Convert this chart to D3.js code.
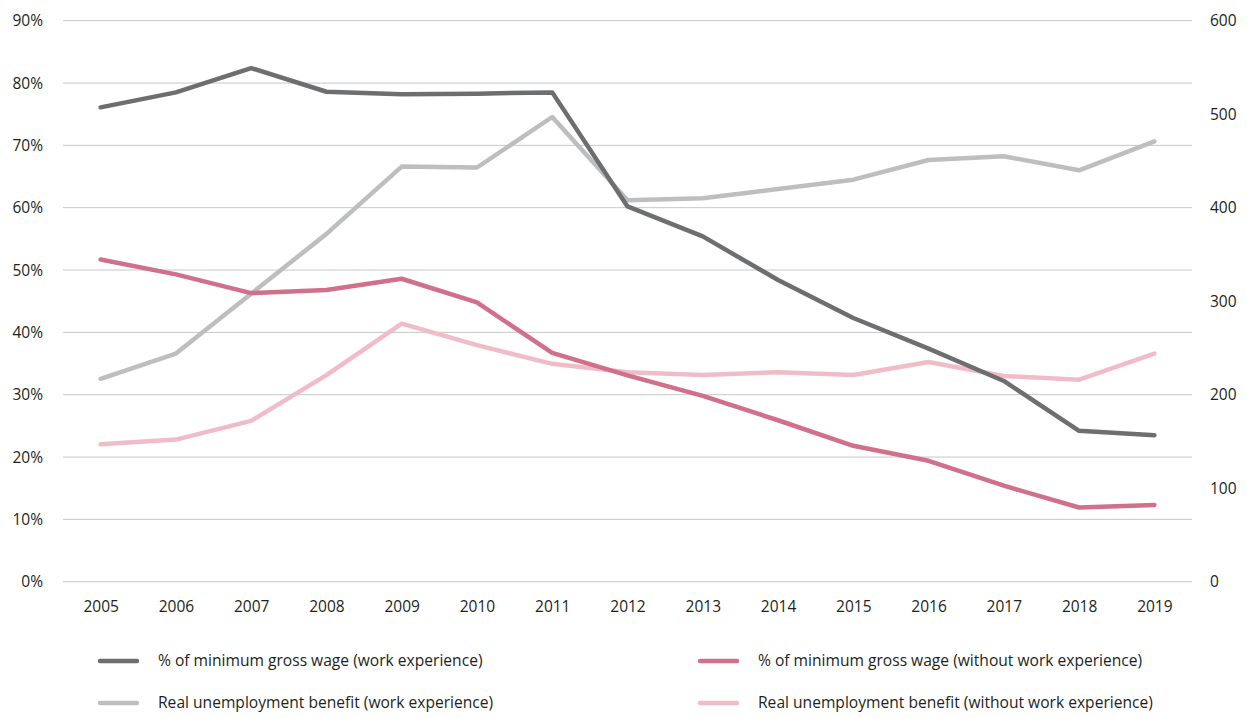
<!DOCTYPE html>
<html>
<head>
<meta charset="utf-8">
<script src="https://cdn.jsdelivr.net/npm/d3@7"></script>
<style>
  html, body { margin: 0; padding: 0; background: #fff; }
  svg { display: block; font-family: "Open Sans", sans-serif; }
</style>
</head>
<body>
<svg id="chart" width="1250" height="718"></svg>
<script>
// Years on the x axis
const years = ["2005","2006","2007","2008","2009","2010","2011","2012","2013","2014","2015","2016","2017","2018","2019"];

// Left axis (share of minimum gross wage, %)
const wageShareExp   = [76.1, 78.5, 82.4, 78.6, 78.2, 78.3, 78.5, 60.2, 55.4, 48.4, 42.3, 37.4, 32.2, 24.2, 23.5];
const wageShareNoExp = [51.7, 49.3, 46.3, 46.8, 48.6, 44.8, 36.7, 33.1, 29.8, 25.9, 21.8, 19.4, 15.4, 11.9, 12.3];

// Right axis (real unemployment benefit)
const realBenefitExp   = [217, 244, 308, 372, 444, 443, 497, 408, 410, 420, 430, 451, 455, 440, 471];
const realBenefitNoExp = [147, 152, 172, 221, 276, 253, 233, 224, 221, 224, 221, 235, 220, 216, 244];

const leftTicks  = [0, 10, 20, 30, 40, 50, 60, 70, 80, 90];
const rightTicks = [0, 100, 200, 300, 400, 500, 600];

const seriesInfo = [
  { name: "% of minimum gross wage (work experience)",         values: wageShareExp,     axis: "left",  color: "#6d6e70" },
  { name: "% of minimum gross wage (without work experience)", values: wageShareNoExp,   axis: "left",  color: "#d0708a" },
  { name: "Real unemployment benefit (work experience)",        values: realBenefitExp,   axis: "right", color: "#bdbec0" },
  { name: "Real unemployment benefit (without work experience)",values: realBenefitNoExp, axis: "right", color: "#f0bcc8" }
];

const svg = d3.select("#chart");
const plot = { left: 63, right: 1192, top: 20.7, bottom: 581.7 };

const x = d3.scalePoint().domain(years).range([plot.left, plot.right]).padding(0.5);
const yL = d3.scaleLinear().domain([0, 90]).range([plot.bottom, plot.top]);
const yR = d3.scaleLinear().domain([0, 600]).range([plot.bottom, plot.top]);

const textColor = "#231f20";
const fontSize = 15.5;

// Horizontal gridlines
svg.append("g")
  .selectAll("line")
  .data(leftTicks)
  .join("line")
  .attr("x1", plot.left).attr("x2", plot.right)
  .attr("y1", d => yL(d)).attr("y2", d => yL(d))
  .attr("stroke", "#c6c7c9").attr("stroke-width", 1);

// Left axis
const axL = svg.append("g")
  .attr("transform", `translate(${plot.left - 20},0)`)
  .call(d3.axisLeft(yL).tickValues(leftTicks).tickFormat(d => d + "%").tickSize(0).tickPadding(0));
axL.select(".domain").remove();
axL.selectAll("text").attr("font-size", fontSize).attr("fill", textColor).attr("font-family", "Open Sans, sans-serif");

// Right axis
const axR = svg.append("g")
  .attr("transform", `translate(${plot.right + 18},0)`)
  .call(d3.axisRight(yR).tickValues(rightTicks).tickSize(0).tickPadding(0));
axR.select(".domain").remove();
axR.selectAll("text").attr("font-size", fontSize).attr("fill", textColor).attr("font-family", "Open Sans, sans-serif");

// Bottom axis (category labels)
const axB = svg.append("g")
  .attr("transform", `translate(0,${plot.bottom + 19})`)
  .call(d3.axisBottom(x).tickSize(0).tickPadding(0));
axB.select(".domain").remove();
axB.selectAll("text").attr("font-size", fontSize).attr("fill", textColor).attr("font-family", "Open Sans, sans-serif").attr("dy", "0.71em");

// Series lines
const lineFor = s => d3.line()
  .x((d, i) => x(years[i]))
  .y(d => (s.axis === "left" ? yL(d) : yR(d)));

const drawOrder = [2, 3, 1, 0];
svg.append("g")
  .selectAll("path")
  .data(drawOrder.map(i => seriesInfo[i]))
  .join("path")
  .attr("d", s => lineFor(s)(s.values))
  .attr("fill", "none")
  .attr("stroke", s => s.color)
  .attr("stroke-width", 4.5)
  .attr("stroke-linejoin", "round")
  .attr("stroke-linecap", "round");

// Legend (two columns, two rows)
const legendPos = [
  { x: 100, y: 661 },
  { x: 700, y: 661 },
  { x: 100, y: 703 },
  { x: 700, y: 703 }
];
const legend = svg.append("g")
  .selectAll("g")
  .data(seriesInfo)
  .join("g")
  .attr("transform", (d, i) => `translate(${legendPos[i].x},${legendPos[i].y})`);
legend.append("line")
  .attr("x1", 0).attr("x2", 37).attr("y1", 0).attr("y2", 0)
  .attr("stroke", d => d.color).attr("stroke-width", 4.5).attr("stroke-linecap", "round");
legend.append("text")
  .attr("x", 58).attr("y", 0).attr("dy", "0.35em")
  .attr("font-size", 15.6).attr("fill", textColor)
  .text(d => d.name);
</script>
</body>
</html>
